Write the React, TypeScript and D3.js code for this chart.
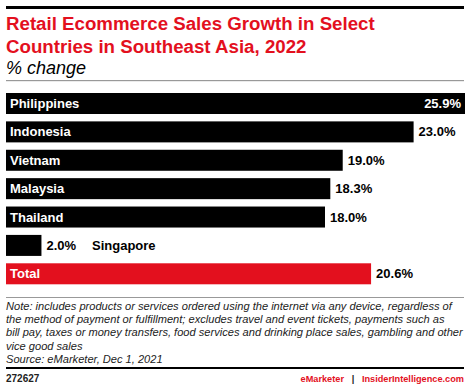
import React from 'react';
import * as d3 from 'd3';

const countries = ['Philippines', 'Indonesia', 'Vietnam', 'Malaysia', 'Thailand', 'Singapore', 'Total'];
const growth = [25.9, 23.0, 19.0, 18.3, 18.0, 2.0, 20.6];

const titleLines = ['Retail Ecommerce Sales Growth in Select', 'Countries in Southeast Asia, 2022'];
const noteLines = [
  'Note: includes products or services ordered using the internet via any device, regardless of',
  'the method of payment or fulfillment; excludes travel and event tickets, payments such as',
  'bill pay, taxes or money transfers, food services and drinking place sales, gambling and other',
  'vice good sales',
  'Source: eMarketer, Dec 1, 2021',
];

const W = 470;
const H = 388;
const RED = '#e3101e';
const FONT = '"Liberation Sans", Arial, Helvetica, sans-serif';

const App: React.FC = () => {
  const data = countries.map((c, i) => ({ name: c, value: growth[i] }));

  const x = d3.scaleLinear().domain([0, 25.9]).range([6, 465]);
  const y = d3.scaleBand<string>().domain(countries).range([93, 284.3]).paddingInner(0.26);
  const bw = y.bandwidth();

  return (
    <svg width={W} height={H} style={{ display: 'block', position: 'absolute', left: 0, top: 0 }} fontFamily={FONT}>
      <rect x={0} y={0} width={W} height={H} fill="#fff" />
      <rect x={6} y={6} width={458} height={3} fill="#000" />
      {titleLines.map((t, i) => (
        <text key={t} x={6} y={30 + i * 23} fontSize={18.7} fontWeight="bold" fill={RED}>
          {t}
        </text>
      ))}
      <text x={6} y={74} fontSize={18} fontStyle="italic" fill="#000">
        % change
      </text>
      <rect x={6} y={80} width={458} height={1.2} fill="#999" />

      {data.map((d) => {
        const by = y(d.name) ?? 0;
        const end = x(d.value);
        const isTotal = d.name === 'Total';
        const inside = d.value > 25;
        const small = d.value < 5;
        const cy = by + bw / 2 + 4.5;
        return (
          <g key={d.name}>
            <rect x={x(0)} y={by} width={end - x(0)} height={bw} fill={isTotal ? RED : '#000'} />
            {!small && (
              <text x={10} y={cy} fontSize={13} fontWeight="bold" fill="#fff">
                {d.name}
              </text>
            )}
            <text
              x={inside ? end - 4 : end + 5}
              y={cy}
              fontSize={13}
              fontWeight="bold"
              textAnchor={inside ? 'end' : 'start'}
              fill={inside ? '#fff' : '#000'}
            >
              {d.value.toFixed(1)}%
            </text>
            {small && (
              <text x={92} y={cy} fontSize={13} fontWeight="bold" fill="#000">
                {d.name}
              </text>
            )}
          </g>
        );
      })}

      <rect x={6} y={297} width={458} height={1} fill="#999" />
      {noteLines.map((t, i) => (
        <text key={i} x={6} y={310 + i * 13.2} fontSize={11.1} fontStyle="italic" fill="#222">
          {t}
        </text>
      ))}
      <rect x={6} y={367} width={458} height={2} fill="#000" />
      <text x={6} y={382} fontSize={10} fontWeight="bold" fill="#222">
        272627
      </text>
      <text x={464} y={382} fontSize={9.2} fontWeight="bold" textAnchor="end">
        <tspan fill={RED}>eMarketer</tspan>
        <tspan fill="#222" xmlSpace="preserve">{'   |   '}</tspan>
        <tspan fill={RED}>InsiderIntelligence.com</tspan>
      </text>
    </svg>
  );
};

export default App;
